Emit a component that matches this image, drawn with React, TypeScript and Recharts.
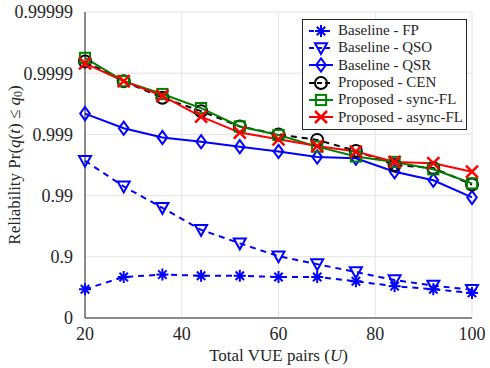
import { LineChart, Line, XAxis, YAxis, CartesianGrid } from 'recharts'

// reliability plotted as "number of nines": -log10(1 - Pr)
const users = [20, 28, 36, 44, 52, 60, 68, 76, 84, 92, 100]
const fpNines = [0.47, 0.67, 0.71, 0.69, 0.69, 0.67, 0.67, 0.6, 0.52, 0.47, 0.41]
const qsoNines = [2.57, 2.15, 1.8, 1.44, 1.22, 1.01, 0.88, 0.75, 0.62, 0.53, 0.46]
const qsrNines = [3.34, 3.1, 2.95, 2.88, 2.8, 2.72, 2.63, 2.61, 2.39, 2.25, 1.97]
const cenNines = [4.19, 3.87, 3.6, 3.38, 3.13, 3.0, 2.91, 2.73, 2.5, 2.45, 2.18]
const syncNines = [4.25, 3.87, 3.66, 3.43, 3.13, 2.99, 2.8, 2.64, 2.55, 2.43, 2.2]
const asyncNines = [4.16, 3.87, 3.63, 3.29, 3.03, 2.92, 2.81, 2.72, 2.55, 2.53, 2.39]

const yTicks = [0, 1, 2, 3, 4, 5]
const yTickLabels = ['0', '0.9', '0.99', '0.999', '0.9999', '0.99999']
const xTicks = [20, 40, 60, 80, 100]

const data = users.map((u, i) => ({
  u,
  fp: fpNines[i],
  qso: qsoNines[i],
  qsr: qsrNines[i],
  cen: cenNines[i],
  sync: syncNines[i],
  async: asyncNines[i],
}))

type MarkerKind = 'star' | 'tri' | 'diamond' | 'circle' | 'square' | 'x'

function Marker({ kind, cx, cy, color }: { kind: MarkerKind; cx: number; cy: number; color: string }) {
  const s = 6
  const common = { fill: 'none', stroke: color, strokeWidth: 2 }
  if (kind === 'star') {
    return (
      <g stroke={color} strokeWidth={2}>
        <line x1={cx - s} y1={cy} x2={cx + s} y2={cy} />
        <line x1={cx} y1={cy - s} x2={cx} y2={cy + s} />
        <line x1={cx - s * 0.7} y1={cy - s * 0.7} x2={cx + s * 0.7} y2={cy + s * 0.7} />
        <line x1={cx - s * 0.7} y1={cy + s * 0.7} x2={cx + s * 0.7} y2={cy - s * 0.7} />
      </g>
    )
  }
  if (kind === 'tri') {
    return <polygon points={`${cx - s},${cy - s * 0.8} ${cx + s},${cy - s * 0.8} ${cx},${cy + s}`} {...common} />
  }
  if (kind === 'diamond') {
    return <polygon points={`${cx},${cy - s * 1.1} ${cx + s * 0.8},${cy} ${cx},${cy + s * 1.1} ${cx - s * 0.8},${cy}`} {...common} />
  }
  if (kind === 'circle') return <circle cx={cx} cy={cy} r={s} {...common} />
  if (kind === 'square') return <rect x={cx - s * 0.85} y={cy - s * 0.85} width={s * 1.7} height={s * 1.7} {...common} />
  return (
    <g stroke={color} strokeWidth={2.5}>
      <line x1={cx - s} y1={cy - s} x2={cx + s} y2={cy + s} />
      <line x1={cx - s} y1={cy + s} x2={cx + s} y2={cy - s} />
    </g>
  )
}

const series = [
  { key: 'fp', name: 'Baseline - FP', color: '#0000ff', dash: '6 5', kind: 'star' as MarkerKind },
  { key: 'qso', name: 'Baseline - QSO', color: '#0000ff', dash: '6 5', kind: 'tri' as MarkerKind },
  { key: 'qsr', name: 'Baseline - QSR', color: '#0000ff', dash: undefined, kind: 'diamond' as MarkerKind },
  { key: 'cen', name: 'Proposed - CEN', color: '#000000', dash: '6 5', kind: 'circle' as MarkerKind },
  { key: 'sync', name: 'Proposed - sync-FL', color: '#008000', dash: undefined, kind: 'square' as MarkerKind },
  { key: 'async', name: 'Proposed - async-FL', color: '#ff0000', dash: undefined, kind: 'x' as MarkerKind },
]

const font = "'Liberation Serif', 'Times New Roman', 'DejaVu Serif', serif"

function LegendBox() {
  return (
    <div
      style={{
        position: 'absolute',
        left: 302,
        top: 19,
        width: 165,
        boxSizing: 'border-box',
        background: '#fff',
        border: '1px solid #262626',
        padding: '2px 0 3px 4px',
        fontFamily: font,
        fontSize: 15,
        color: '#262626',
        whiteSpace: 'nowrap',
      }}
    >
      {series.map(s => (
        <div key={s.key} style={{ display: 'flex', alignItems: 'center', height: 17.3 }}>
          <svg width={28} height={16} style={{ marginRight: 3 }}>
            <line x1={2} y1={8} x2={26} y2={8} stroke={s.color} strokeWidth={2} strokeDasharray={s.dash ? '5 3' : undefined} />
            <Marker kind={s.kind} cx={14} cy={8} color={s.color} />
          </svg>
          <span>{s.name}</span>
        </div>
      ))}
    </div>
  )
}

export default function App() {
  return (
    <div style={{ position: 'absolute', left: 0, top: 0, width: 490, height: 368, background: '#fff', fontFamily: font }}>
      <LineChart width={490} height={368} data={data} margin={{ top: 12, right: 18, left: 0, bottom: 0 }} style={{ fontFamily: font }}>
        <CartesianGrid stroke="#e3e3e3" strokeWidth={1} />
        <XAxis
          dataKey="u"
          type="number"
          domain={[20, 100]}
          ticks={xTicks}
          height={50}
          stroke="#262626"
          tickLine={false}
          tick={{ fontSize: 18, fontFamily: font, fill: '#262626' }}
          tickMargin={3}
          label={({ viewBox }: any) => (
            <text x={viewBox.x + viewBox.width / 2} y={viewBox.y + 43} textAnchor="middle" fontSize={17} fontFamily={font} fill="#262626">
              Total VUE pairs (<tspan fontStyle="italic">U</tspan>)
            </text>
          )}
        />
        <XAxis xAxisId="top" orientation="top" dataKey="u" type="number" domain={[20, 100]} ticks={xTicks} height={0} stroke="#262626" tick={false} tickLine={false} />
        <YAxis
          type="number"
          domain={[0, 5]}
          ticks={yTicks}
          width={85}
          stroke="#262626"
          tickLine={false}
          tickFormatter={(v: number) => yTickLabels[yTicks.indexOf(v)]}
          tick={{ fontSize: 18, fontFamily: font, fill: '#262626' }}
          tickMargin={6}
          label={({ viewBox }: any) => {
            const cy = viewBox.y + viewBox.height / 2
            return (
              <text x={14} y={cy} transform={`rotate(-90 14 ${cy})`} textAnchor="middle" dominantBaseline="central" fontSize={17} fontFamily={font} fill="#262626">
                Reliability Pr(<tspan fontStyle="italic">q</tspan>(<tspan fontStyle="italic">t</tspan>) ≤ <tspan fontStyle="italic">q</tspan>
                <tspan fontSize={12} dy={4}>0</tspan>
                <tspan dy={-4}>)</tspan>
              </text>
            )
          }}
        />
        <YAxis yAxisId="right" orientation="right" type="number" domain={[0, 5]} ticks={yTicks} width={0} stroke="#262626" tick={false} tickLine={false} />
        {series.map(s => (
          <Line
            key={s.key}
            dataKey={s.key}
            name={s.name}
            stroke={s.color}
            strokeWidth={2}
            strokeDasharray={s.dash}
            isAnimationActive={false}
            dot={(p: any) => <Marker key={`${s.key}-${p.index}`} kind={s.kind} cx={p.cx} cy={p.cy} color={s.color} />}
            activeDot={false}
          />
        ))}
      </LineChart>
      <LegendBox />
    </div>
  )
}
